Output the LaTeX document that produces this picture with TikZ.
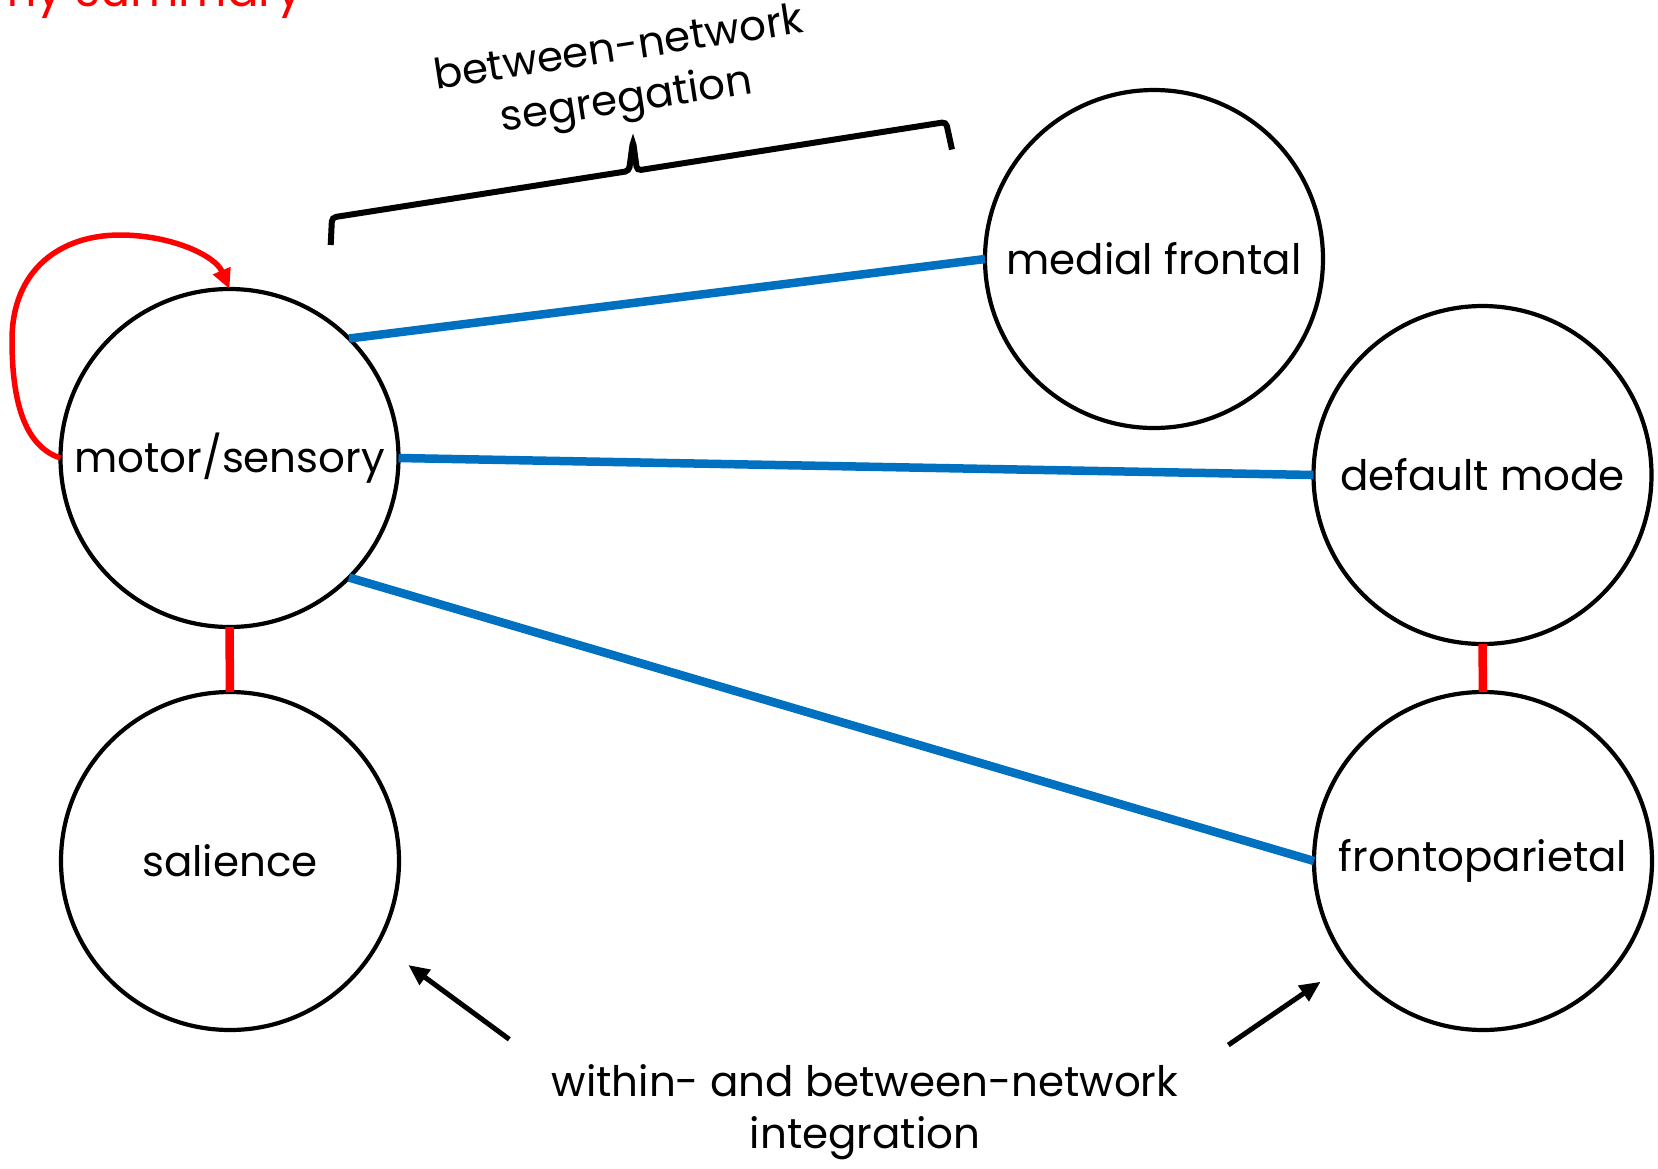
\documentclass[tikz,border=0pt]{standalone}
\usepackage{fontspec}
\setmainfont{Poppins}
\usetikzlibrary{arrows.meta}
\definecolor{netblue}{HTML}{0070C0}
\definecolor{netred}{HTML}{FF0000}
\begin{document}
\begin{tikzpicture}[x=1pt,y=-1pt,
  net/.style={circle, draw=black, line width=4.2pt, minimum size=338pt,
    inner sep=0pt, outer sep=0pt, font=\fontsize{42}{50}\selectfont},
  segr/.style={netblue, line width=8.5pt},
  integ/.style={netred, line width=8.5pt},
  loopline/.style={netred, line width=5.5pt, -{Triangle[length=20pt,width=18pt]}},
  pointer/.style={line width=5pt, -{Triangle[length=21pt,width=18pt]}},
  bracket/.style={line width=6pt, rounded corners=4pt},
  notetext/.style={font=\fontsize{42}{52}\selectfont, align=center, inner sep=0pt}]

  % canvas
  \fill[white] (0,0) rectangle (1658,1168);
  \useasboundingbox (0,0) rectangle (1658,1168);

  % heading, mostly above the page edge
  \node[anchor=base west, text=netred, inner sep=0pt,
        font=\fontsize{47}{55}\selectfont] (head) at (-12,6) {my summary};

  % networks
  \node[net] (ms) at (229.5,458) {motor/sensory};
  \node[net] (sal) at (230,861) {salience};
  \node[net] (mf) at (1154,259) {medial frontal};
  \node[net] (dm) at (1482.5,475) {default mode};
  \node[net] (fp) at (1483,861) {frontoparietal};

  % between-network links
  \draw[segr] (ms.45) -- (mf.west);
  \draw[segr] (ms.east) -- (dm.west);
  \draw[segr] (ms.-45) -- (fp.west);

  % within-network links
  \draw[integ] (ms.south) -- (sal.north);
  \draw[integ] (dm.south) -- (fp.north);

  % self connection
  \draw[loopline] (ms.west) .. controls (20,445) and (12,390) .. (12,340)
    .. controls (12,270) and (60,235) .. (120,235)
    .. controls (170,235) and (215,255) .. (ms.north);

  % bracket over the between-network links
  \coordinate (b1) at (330.7,245);
  \coordinate (b2) at (332,217.5);
  \coordinate (b3) at (629,171);
  \coordinate (b4) at (633,141);
  \coordinate (b5) at (637,170.5);
  \coordinate (b6) at (946,122);
  \coordinate (b7) at (952,149.5);
  \draw[bracket] (b1) -- (b2) -- (b3) -- (b4) -- (b5) -- (b6) -- (b7);
  \node[notetext, rotate=8.8] (seg) at (623,77) {between-network\\segregation};

  % integration caption and pointers
  \node[notetext] (intg) at (865,1112) {within- and between-network\\integration};
  \coordinate (lt) at (509.3,1039.3);
  \coordinate (lh) at (408.3,965);
  \coordinate (rt) at (1228.3,1045);
  \coordinate (rh) at (1320.7,981.7);
  \draw[pointer] (lt) -- (lh);
  \draw[pointer] (rt) -- (rh);
\end{tikzpicture}
\end{document}
